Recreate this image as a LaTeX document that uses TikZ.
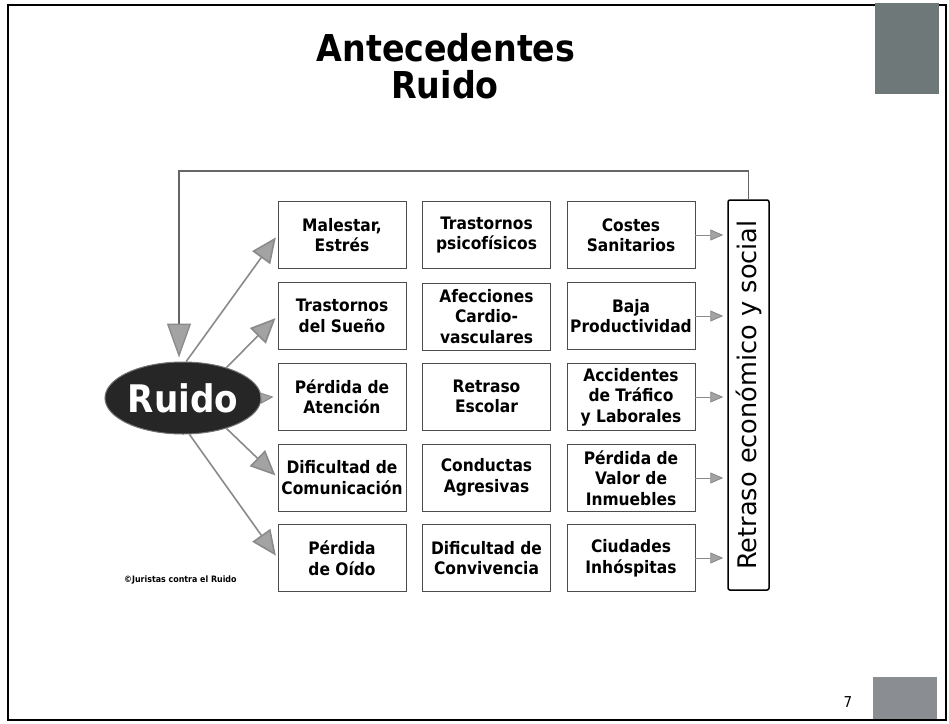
\documentclass[tikz,border=0pt]{standalone}
\usepackage{fontspec}
\setmainfont{DejaVu Sans Condensed}
\newfontfamily\dvs{DejaVu Sans}
\usetikzlibrary{arrows.meta,calc,shapes.geometric}
\definecolor{arrowgray}{HTML}{8A8A8A}
\definecolor{headgray}{HTML}{A3A3A3}
\definecolor{slatetop}{HTML}{6F7878}
\definecolor{slatebot}{HTML}{8A8D92}
\begin{document}
\begin{tikzpicture}[x=1pt,y=-1pt,
  effbox/.style={draw=black!70,line width=0.9pt,minimum width=128pt,minimum height=67pt,
    inner sep=0pt,align=center,font=\bfseries\fontsize{17.2}{20.5}\selectfont},
  bigarrow/.style={draw=arrowgray,line width=1.6pt,shorten >=3pt,
    -{Triangle[length=25pt,width=22pt,fill=headgray]}},
  smallarrow/.style={draw=arrowgray,line width=0.9pt,shorten >=4pt,
    -{Triangle[length=13pt,width=11pt,fill=headgray]}},
  fbline/.style={draw=black!60,line width=1.3pt,shorten >=4pt,
    -{Triangle[length=34pt,width=24pt,fill=headgray,color=arrowgray]}},
  titlefont/.style={font=\bfseries\fontsize{37}{42}\selectfont}
]
\useasboundingbox (0,0) rectangle (949,723);
\fill[white] (0,0) rectangle (949,723);
% page frame and decorations
\draw[line width=2pt] (8,5) rectangle (946,720);
\fill[slatetop] (875,3) rectangle (939,94);
\fill[slatebot] (873,677) rectangle (937,719);
\node[font=\fontsize{15}{17}\selectfont] (pnum) at (848,702) {7};
% title
\node[titlefont,anchor=base] (t1) at (446,61) {Antecedentes};
\node[titlefont,anchor=base] (t2) at (445,98) {Ruido};
% boxes
\node[effbox] (a1) at (342,235) {Malestar,\\Estrés};
\node[effbox] (b1) at (486.5,235) {Trastornos\\psicofísicos};
\node[effbox] (c1) at (631,235) {Costes\\Sanitarios};
\node[effbox] (a2) at (342,316) {Trastornos\\del Sueño};
\node[effbox] (b2) at (486.5,316.5) {Afecciones\\Cardio-\\vasculares};
\node[effbox] (c2) at (631,316) {Baja\\Productividad};
\node[effbox] (a3) at (342,396.5) {Pérdida de\\Atención};
\node[effbox] (b3) at (486.5,396.5) {Retraso\\Escolar};
\node[effbox] (c3) at (631,397) {Accidentes\\de Tráfico\\y Laborales};
\node[effbox] (a4) at (342,477.5) {Dificultad de\\Comunicación};
\node[effbox] (b4) at (486.5,477.5) {Conductas\\Agresivas};
\node[effbox] (c4) at (631,478) {Pérdida de\\Valor de\\Inmuebles};
\node[effbox] (a5) at (342,558) {Pérdida\\de Oído};
\node[effbox] (b5) at (486.5,558) {Dificultad de\\Convivencia};
\node[effbox] (c5) at (631,558) {Ciudades\\Inhóspitas};
% right box
\node[draw=black,line width=1.5pt,rounded corners=2pt,minimum width=41pt,minimum height=390pt,inner sep=0pt] (ret) at (748.5,395) {};
\node[rotate=90,font=\dvs\fontsize{25.6}{30}\selectfont,inner sep=0pt] (rettext) at (ret.center) {Retraso económico y social};
% Ruido
\node[ellipse,fill=black!85,draw=black!55,line width=1pt,minimum width=141pt,minimum height=72pt,inner sep=0pt,
  text=white,font=\bfseries\fontsize{38}{40}\selectfont] (ruido) at (183,398) {Ruido};
% credit
\node[anchor=west,font=\bfseries\fontsize{8.8}{10}\selectfont,inner sep=0pt] (cred) at (124,580) {©Juristas contra el Ruido};
% arrows from Ruido
\draw[bigarrow] (ruido.85) -- (a1.west);
\draw[bigarrow] (ruido.35) -- (a2.west);
\draw[smallarrow] (ruido.east) -- (a3.west);
\draw[bigarrow] (ruido.-35) -- (a4.west);
\draw[bigarrow] (ruido.-80) -- (a5.west);
% arrows to Retraso
\foreach \r in {1,...,5}{
  \draw[smallarrow] (c\r.east) -- (c\r.east -| ret.west);
}
% feedback
\coordinate (fb) at (179,171);
\draw[fbline] (ret.north) |- (fb) -- (fb |- ruido.north);
\end{tikzpicture}
\end{document}
